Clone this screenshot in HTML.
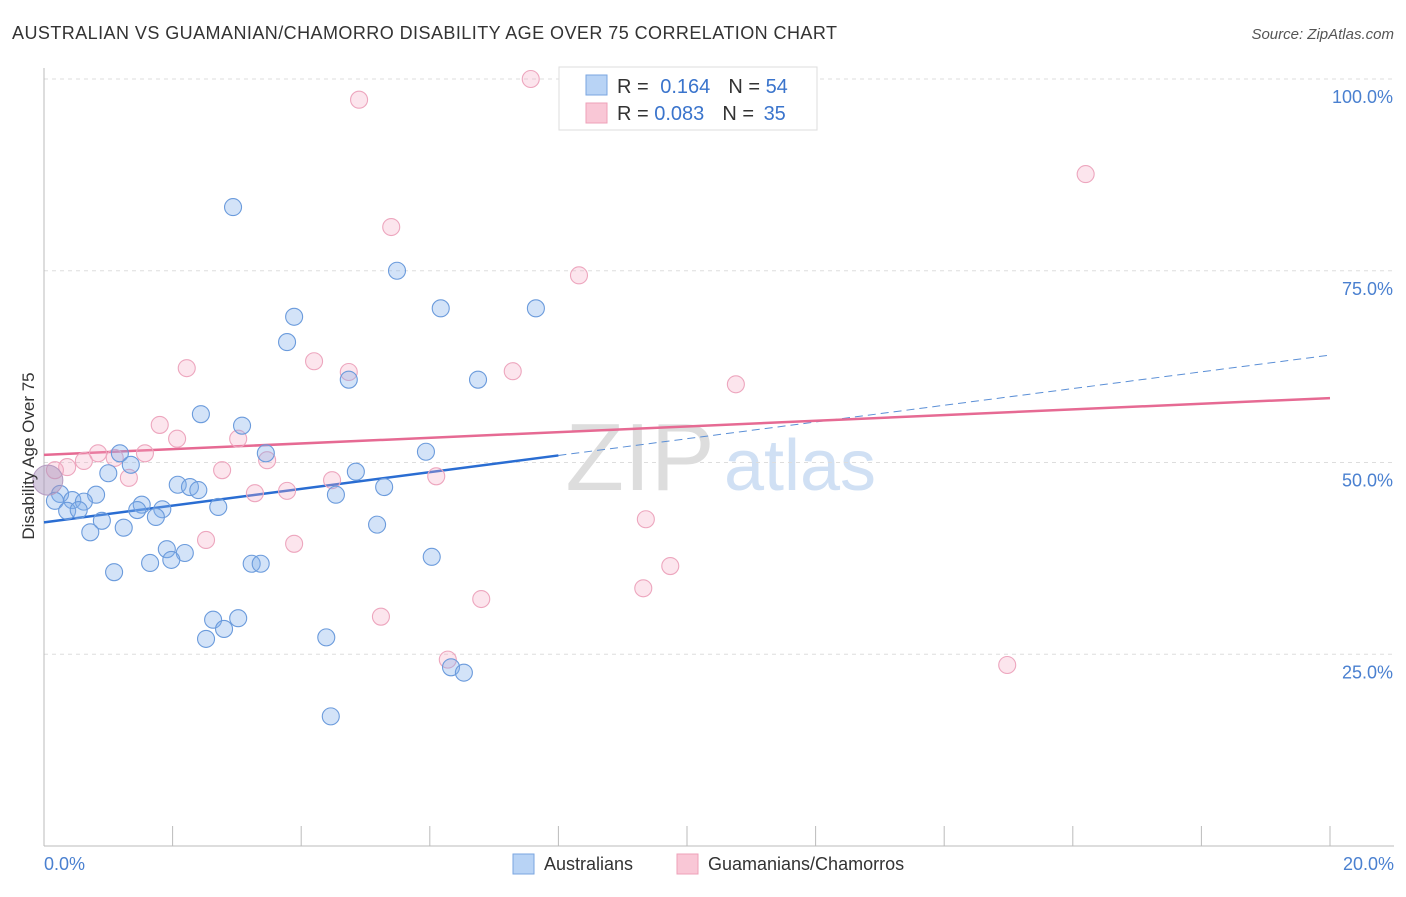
<!DOCTYPE html>
<html><head><meta charset="utf-8"><style>
body{margin:0;background:#fff;font-family:"Liberation Sans",sans-serif;}
svg text{font-family:"Liberation Sans",sans-serif;}
</style></head><body>
<svg id="chart" width="1406" height="892" xmlns="http://www.w3.org/2000/svg">
<text x="12" y="39" font-size="18" fill="#333" textLength="825" lengthAdjust="spacing">AUSTRALIAN VS GUAMANIAN/CHAMORRO DISABILITY AGE OVER 75 CORRELATION CHART</text>
<text x="1394" y="39" font-size="15" fill="#555" text-anchor="end" font-style="italic">Source: ZipAtlas.com</text>
<text x="640" y="490" font-size="96" fill="#ddd" font-family="Liberation Serif" text-anchor="middle">ZIP</text>
<text x="800" y="490" font-size="72" fill="#d0e0f4" text-anchor="middle">atlas</text>
<g id="grid"></g><g id="axes"></g><g id="trends"></g><g id="pts"></g>
<text transform="translate(34,456) rotate(-90)" font-size="17" fill="#333" text-anchor="middle">Disability Age Over 75</text>
<text x="44" y="870" font-size="18" fill="#4a80d0">0.0%</text>
<text x="1394" y="870" font-size="18" fill="#4a80d0" text-anchor="end">20.0%</text>
<g>
<rect x="559" y="67" width="258" height="63" fill="#fff" stroke="#ddd"/>
<rect x="586" y="75" width="21" height="20" fill="#b8d3f5" stroke="#7aa6e0"/>
<rect x="586" y="103" width="21" height="20" fill="#f9c7d6" stroke="#eea0b8"/>
<text x="617" y="93" font-size="20" fill="#333">R = <tspan fill="#3a74cc" dx="6">0.164</tspan><tspan dx="18" fill="#333">N = </tspan><tspan fill="#3a74cc">54</tspan></text>
<text x="617" y="120" font-size="20" fill="#333">R = <tspan fill="#3a74cc">0.083</tspan><tspan dx="18" fill="#333">N = </tspan><tspan fill="#3a74cc" dx="4">35</tspan></text>
</g>
<g>
<rect x="513" y="854" width="21" height="20" fill="#b8d3f5" stroke="#7aa6e0"/>
<text x="544" y="870" font-size="18" fill="#333">Australians</text>
<rect x="677" y="854" width="21" height="20" fill="#f9c7d6" stroke="#eea0b8"/>
<text x="708" y="870" font-size="18" fill="#333">Guamanians/Chamorros</text>
</g>
</svg>
<script>
const yTicks=[25,50,75,100];
const yTickLabels=["25.0%","50.0%","75.0%","100.0%"];
const blueX=[2.94,5.49,3.89,6.17,7.65,3.78,4.74,6.75,2.44,3.08,1.18,3.45,5.94,1.35,1.00,4.85,0.25,0.44,0.17,0.81,0.62,2.08,2.27,2.40,5.29,4.54,1.52,1.45,1.84,0.36,0.54,1.74,2.71,0.90,0.72,1.24,5.18,1.91,2.19,1.65,1.98,1.09,3.23,3.37,6.03,2.63,3.02,2.80,2.52,4.39,6.33,6.53,4.46];
const blueY=[83.3,75.0,69.0,70.1,70.1,65.7,60.8,60.8,56.3,54.8,51.2,51.2,51.4,49.7,48.6,48.8,45.9,45.1,45.0,45.8,44.9,47.1,46.8,46.4,46.8,45.8,44.5,43.8,43.9,43.7,43.8,42.9,44.2,42.4,40.9,41.5,41.9,38.7,38.2,36.9,37.3,35.7,36.8,36.8,37.7,29.5,29.7,28.3,27.0,27.2,23.3,22.6,16.9];
const pinkX=[7.57,4.90,16.2,5.40,8.32,2.22,4.20,4.74,7.29,10.76,1.80,2.07,3.02,1.57,0.84,1.10,3.47,0.62,0.36,0.17,2.77,1.32,6.10,4.48,3.28,3.78,9.36,2.52,3.89,9.74,9.32,6.80,5.24,6.28,14.98];
const pinkY=[100,97.3,87.6,80.7,74.4,62.3,63.2,61.8,61.9,60.2,54.9,53.1,53.1,51.2,51.2,50.6,50.3,50.2,49.4,49.0,49.0,48.0,48.2,47.7,46.0,46.3,42.6,39.9,39.4,36.5,33.6,32.2,29.9,24.3,23.6];
const bigPoint=[0.06,47.7];
const blueTrend=[42.2,64.0];
const pinkTrend=[51.0,58.4];
const NS="http://www.w3.org/2000/svg";
const X=v=>44+v/20*1286, Y=v=>846-v*7.67;
function mk(p,t,a){const e=document.createElementNS(NS,t);for(const k in a)e.setAttribute(k,a[k]);document.getElementById(p).appendChild(e);return e;}
yTicks.forEach((t,i)=>{
 let l=mk('grid','line',{x1:44,x2:1394,y1:Y(t),y2:Y(t),stroke:'#ddd','stroke-dasharray':'4,4'});
 
 
 let tx=mk('grid','text',{x:1393,y:Y(t)+24,'font-size':18,fill:'#4a80d0','text-anchor':'end'});
 tx.textContent=yTickLabels[i];
 
 
});
let ax=mk('axes','line',{x1:44,x2:44,y1:68,y2:846,stroke:'#bbb'});


let bx=mk('axes','line',{x1:44,x2:1394,y1:846,y2:846,stroke:'#bbb'});


for(let i=0;i<=10;i++){let t=mk('axes','line',{x1:X(i*2),x2:X(i*2),y1:826,y2:846,stroke:'#bbb'});
 
 }
const bs=(blueTrend[1]-blueTrend[0])/20;
let t1=mk('trends','line',{x1:X(0),y1:Y(blueTrend[0]),x2:X(8),y2:Y(blueTrend[0]+bs*8),stroke:'#2a6dd2','stroke-width':2.5});


let t2=mk('trends','line',{x1:X(8),y1:Y(blueTrend[0]+bs*8),x2:X(20),y2:Y(blueTrend[1]),stroke:'#5b8fd6','stroke-width':1,'stroke-dasharray':'8,5'});


let t3=mk('trends','line',{x1:X(0),y1:Y(pinkTrend[0]),x2:X(20),y2:Y(pinkTrend[1]),stroke:'#e66a93','stroke-width':2.5});


pinkX.forEach((x,i)=>{let c=mk('pts','circle',{cx:X(x),cy:Y(pinkY[i]),r:8.5,fill:'rgba(244,170,195,0.3)',stroke:'#eda6be','stroke-width':1.1});
 
 });
blueX.forEach((x,i)=>{let c=mk('pts','circle',{cx:X(x),cy:Y(blueY[i]),r:8.5,fill:'rgba(130,175,235,0.35)',stroke:'#6b9bdc','stroke-width':1.1});
 
 });
let bp=mk('pts','circle',{cx:X(bigPoint[0]),cy:Y(bigPoint[1]),r:15,fill:'rgba(170,150,190,0.5)',stroke:'#b49ac0','stroke-width':1});


</script>
</body></html>
